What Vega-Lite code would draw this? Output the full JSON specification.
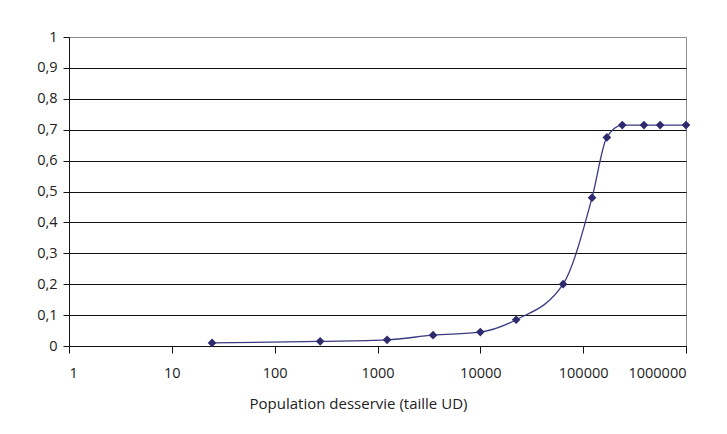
{
  "$schema": "https://vega.github.io/schema/vega-lite/v6.json",
  "width": 617,
  "height": 309,
  "autosize": {"type": "none"},
  "padding": {"left": 69, "top": 37, "right": 41, "bottom": 88},
  "background": "white",
  "config": {
    "view": {"stroke": "#8c8c8c", "strokeWidth": 1},
    "font": "Open Sans",
    "axis": {"labelFont": "Open Sans", "titleFont": "Open Sans", "labelColor": "#222", "titleColor": "#222", "labelFontSize": 14.5, "titleFontSize": 15, "titleFontWeight": "normal"}
  },
  "data": {
    "values": [
      {"pop": 24.6, "v": 0.01},
      {"pop": 277, "v": 0.015},
      {"pop": 1240, "v": 0.02},
      {"pop": 3470, "v": 0.035},
      {"pop": 10000, "v": 0.045},
      {"pop": 22300, "v": 0.085},
      {"pop": 63800, "v": 0.2},
      {"pop": 122000, "v": 0.48},
      {"pop": 170000, "v": 0.675},
      {"pop": 240000, "v": 0.715},
      {"pop": 390000, "v": 0.715},
      {"pop": 560000, "v": 0.715},
      {"pop": 1000000, "v": 0.715}
    ]
  },
  "encoding": {
    "x": {
      "field": "pop", "type": "quantitative",
      "scale": {"type": "log", "domain": [1, 1000000], "nice": false},
      "axis": {
        "values": [1, 10, 100, 1000, 10000, 100000, 1000000],
        "format": "d",
        "grid": false,
        "domainColor": "#111",
        "tickColor": "#111",
        "tickSize": 7,
        "labelPadding": 13,
        "title": "Population desservie (taille UD)",
        "titlePadding": 17,
        "titleX": 289
      }
    },
    "y": {
      "field": "v", "type": "quantitative",
      "scale": {"domain": [0, 1], "nice": false},
      "axis": {
        "values": [0, 0.1, 0.2, 0.3, 0.4, 0.5, 0.6, 0.7, 0.8, 0.9, 1],
        "labelExpr": "replace(format(datum.value, '~g'), '.', ',')",
        "grid": true,
        "gridColor": {"condition": {"test": "datum.value == 1", "value": "#8c8c8c"}, "value": "#111"},
        "gridOpacity": 1,
        "domainColor": "#111",
        "tickColor": "#111",
        "tickSize": 6,
        "labelPadding": 6,
        "title": null
      }
    }
  },
  "layer": [
    {"mark": {"type": "line", "interpolate": "monotone", "color": "#3a3a80", "strokeWidth": 1.3}},
    {"mark": {"type": "point", "shape": "diamond", "filled": true, "size": 75, "color": "#2e2a6e", "opacity": 1}}
  ]
}
